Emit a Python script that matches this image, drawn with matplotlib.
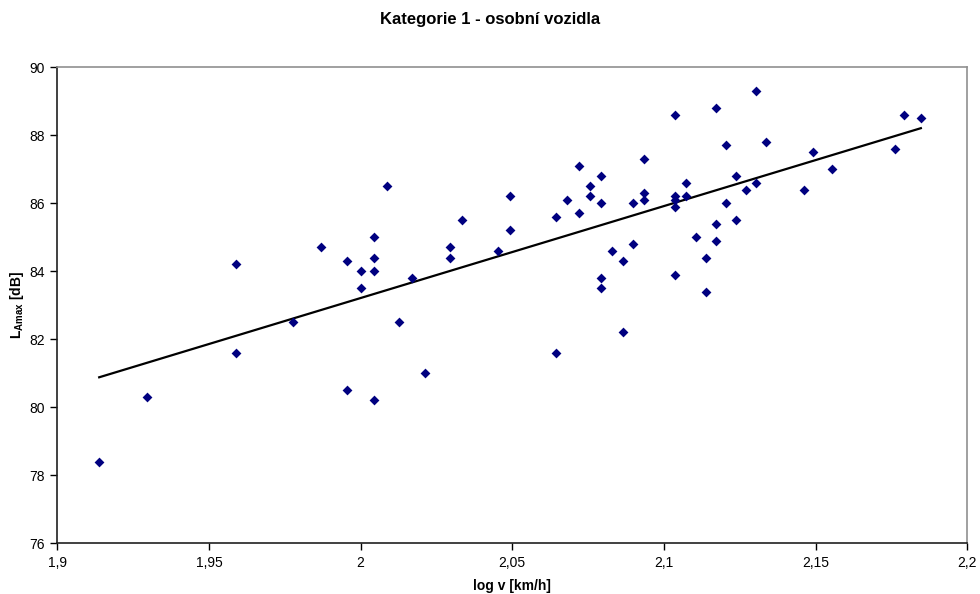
import numpy as np
import matplotlib
matplotlib.use("Agg")
import matplotlib.pyplot as plt

plt.rcParams['font.family'] = ['Liberation Sans', 'DejaVu Sans']
plt.rcParams['mathtext.fontset'] = 'custom'
plt.rcParams['mathtext.rm'] = 'Liberation Sans'
plt.rcParams['mathtext.bf'] = 'Liberation Sans:bold'

# log10 of vehicle speed [km/h]
log_v = [
    1.9138, 1.9294, 1.9590, 1.9590, 1.9777, 1.9868, 1.9956, 1.9956,
    2.0000, 2.0000, 2.0043, 2.0043, 2.0043, 2.0043, 2.0086, 2.0128,
    2.0170, 2.0212, 2.0294, 2.0294, 2.0334, 2.0453, 2.0492, 2.0492,
    2.0645, 2.0645, 2.0682, 2.0719, 2.0719, 2.0755, 2.0755,
    2.0792, 2.0792, 2.0792, 2.0792, 2.0828, 2.0864, 2.0864,
    2.0899, 2.0899, 2.0934, 2.0934, 2.0934,
    2.1038, 2.1038, 2.1038, 2.1038, 2.1038, 2.1072, 2.1072, 2.1106,
    2.1139, 2.1139, 2.1173, 2.1173, 2.1173, 2.1206, 2.1206,
    2.1239, 2.1239, 2.1271, 2.1303, 2.1303, 2.1335, 2.1461, 2.1492,
    2.1553, 2.1761, 2.1790, 2.1847,
]
# maximum A-weighted sound level [dB]
l_amax = [
    78.4, 80.3, 84.2, 81.6, 82.5, 84.7, 84.3, 80.5,
    84.0, 83.5, 85.0, 84.4, 84.0, 80.2, 86.5, 82.5,
    83.8, 81.0, 84.7, 84.4, 85.5, 84.6, 86.2, 85.2,
    85.6, 81.6, 86.1, 87.1, 85.7, 86.5, 86.2,
    86.8, 86.0, 83.8, 83.5, 84.6, 84.3, 82.2,
    86.0, 84.8, 87.3, 86.3, 86.1,
    88.6, 86.2, 86.1, 85.9, 83.9, 86.6, 86.2, 85.0,
    84.4, 83.4, 88.8, 85.4, 84.9, 87.7, 86.0,
    86.8, 85.5, 86.4, 89.3, 86.6, 87.8, 86.4, 87.5,
    87.0, 87.6, 88.6, 88.5,
]

x_ticks = [1.9, 1.95, 2.0, 2.05, 2.1, 2.15, 2.2]
x_tick_labels = ['1,9', '1,95', '2', '2,05', '2,1', '2,15', '2,2']
y_ticks = [76, 78, 80, 82, 84, 86, 88, 90]
y_tick_labels = ['76', '78', '80', '82', '84', '86', '88', '90']

x = np.array(log_v)
y = np.array(l_amax)

fig = plt.figure(figsize=(9.8, 5.94), dpi=100)
ax = fig.add_axes([0.0585, 0.0854, 0.9285, 0.8013])

ax.scatter(x, y, marker='D', s=25, color='#000080', linewidths=0, zorder=3)

# linear regression trend line over the data range
k, q = np.polyfit(x, y, 1)
xl = np.array([x.min(), x.max()])
ax.plot(xl, k * xl + q, color='black', lw=1.6, zorder=2)

ax.set_xlim(1.9, 2.2)
ax.set_ylim(76, 90)
ax.set_xticks(x_ticks)
ax.set_xticklabels(x_tick_labels)
ax.set_yticks(y_ticks)
ax.set_yticklabels(y_tick_labels)
ax.tick_params(direction='out', length=5, width=1, labelsize=10, colors='black', pad=4)

for side in ('left', 'bottom'):
    ax.spines[side].set_color('#202020')
    ax.spines[side].set_linewidth(1.2)
for side in ('top', 'right'):
    ax.spines[side].set_color('#909090')
    ax.spines[side].set_linewidth(1.2)

ax.set_xlabel('log v [km/h]', fontsize=10, fontweight='bold', labelpad=7)
ax.set_ylabel(r'$\mathbf{L_{Amax}}$ [dB]', fontsize=10, fontweight='bold', labelpad=2)
fig.text(0.5, 0.968, 'Kategorie 1 - osobní vozidla', ha='center', va='center',
         fontsize=12, fontweight='bold')

fig.savefig('out.png', dpi=100, facecolor='white')
